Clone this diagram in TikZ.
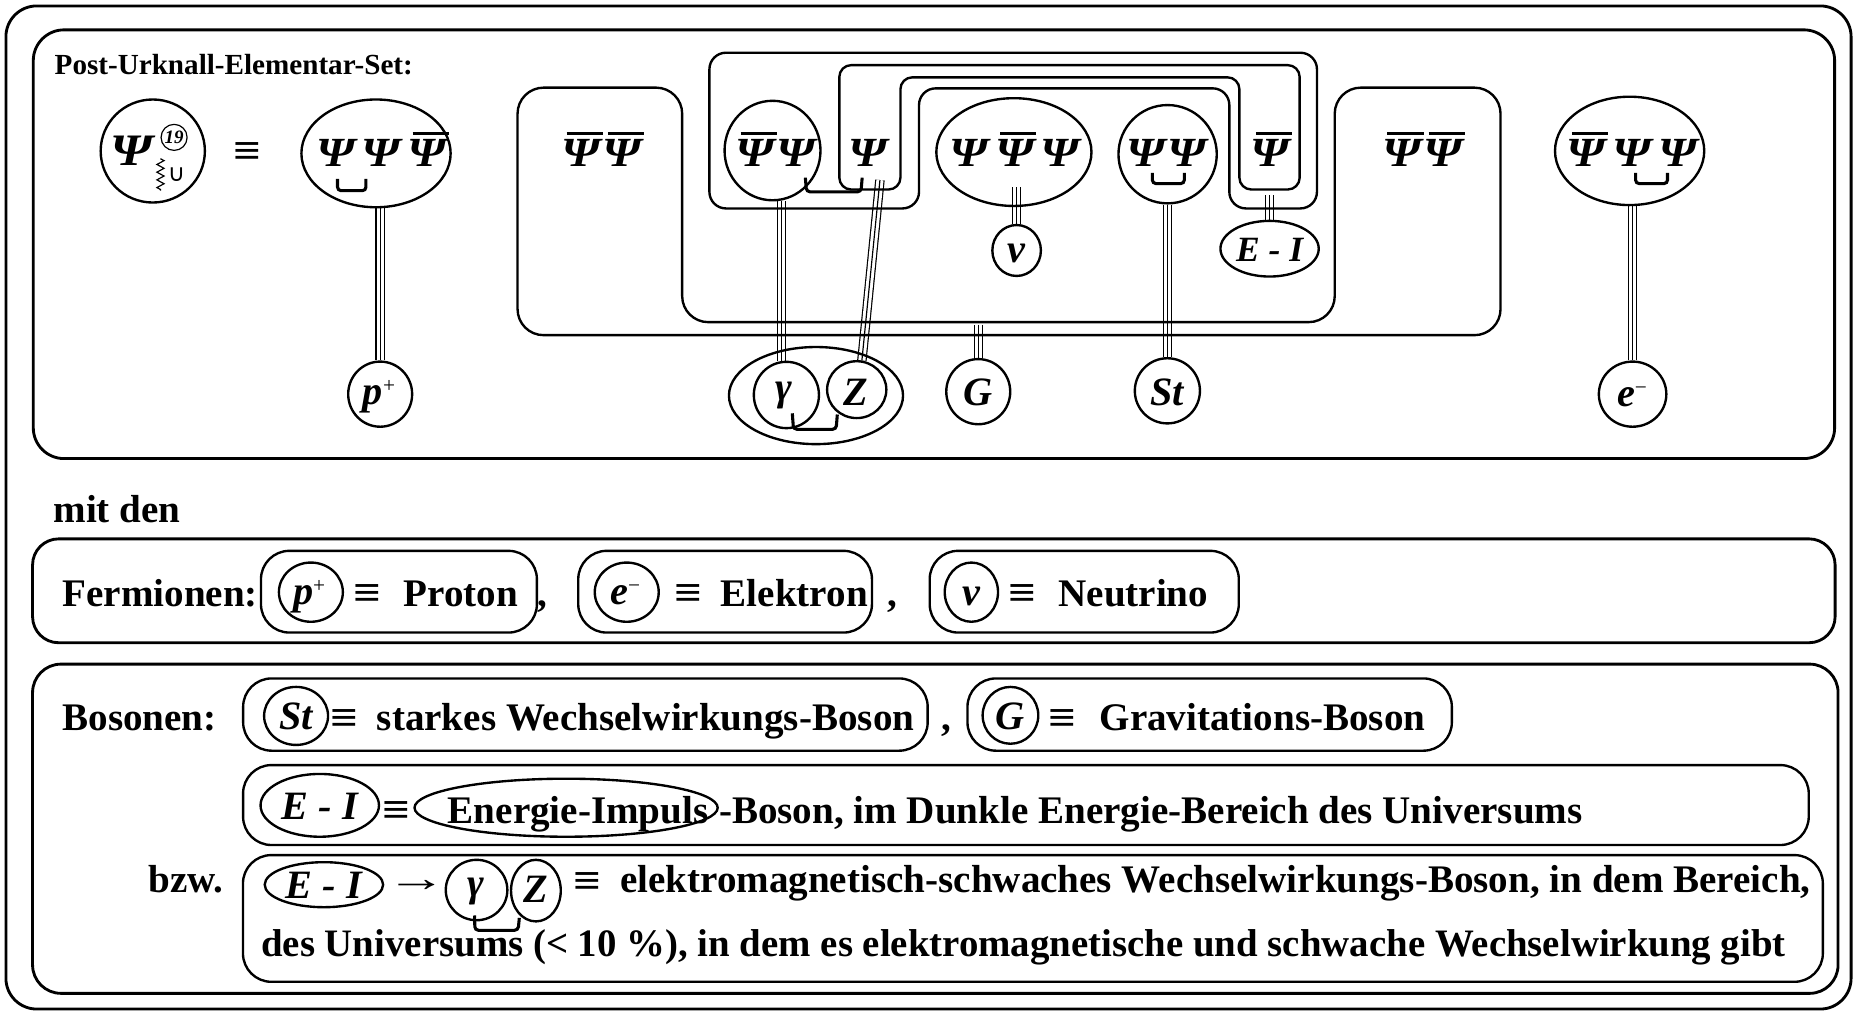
\documentclass[tikz,border=0pt]{standalone}
\usepackage{fontspec}
\setmainfont{Liberation Serif}
\newfontfamily\djv{DejaVu Sans}
\usetikzlibrary{shapes.geometric,decorations.pathmorphing,backgrounds}
\newcommand\Ps{\scalebox{1.17}[1]{Ψ}}
\newcommand\ob[1]{\begingroup\setbox0\hbox{#1}\rlap{\kern0.12em\raisebox{\dimexpr\ht0+0.1em\relax}{\rule{\dimexpr\wd0-0.06em\relax}{0.08em}}}\box0\endgroup}
\newcommand\plus{\raisebox{10pt}{\fontsize{18}{18}\selectfont\mdseries\upshape +}}
\newcommand\minus{\raisebox{10pt}{\fontsize{18}{18}\selectfont\mdseries\upshape −}}
\newcommand\eqsym{\scalebox{1.25}[1.05]{≡}}
\tikzset{
  frame/.style={draw, rectangle, line width=2.4pt, rounded corners=26pt, inner sep=0pt},
  rbox/.style={draw, rectangle, line width=2pt, rounded corners=24pt, inner sep=0pt},
  ell/.style={draw, ellipse, line width=2pt, inner sep=0pt},
  lbl/.style={inner sep=0pt, anchor=base, font=\fontsize{33}{36}\selectfont\bfseries},
  lblw/.style={lbl, anchor=base west},
  eqv/.style={inner sep=0pt, anchor=center, font=\fontsize{33}{36}\selectfont\bfseries},
  sym/.style={inner sep=0pt, anchor=base, font=\fontsize{34}{36}\selectfont\bfseries\itshape},
  psi/.style={inner sep=0pt, anchor=base, font=\fontsize{35}{36}\selectfont\bfseries\itshape},
  triple/.style={line width=1pt, preaction={draw, line width=8pt}, preaction={draw=white, line width=6pt}},
  brk/.style={line width=2.6pt, rounded corners=3pt},
  grp/.style={line width=2pt},
}
\begin{document}
\begin{tikzpicture}[x=1pt,y=-1pt]
\useasboundingbox (0,0) rectangle (1568,855);
% frames
\node[frame, minimum width=1558, minimum height=847] (outer) at (784,428.5) {};
\node[frame, minimum width=1521, minimum height=362] (topf) at (788.6,206.2) {};
% ---------- top section
\node[inner sep=0pt, anchor=base west, font=\fontsize{24.6}{26}\selectfont\bfseries] (title) at (46,62.5) {Post-Urknall-Elementar-Set:};
\node[ell, minimum width=88, minimum height=87] (psic) at (129,127.5) {};
\node[psi, font=\fontsize{38}{38}\selectfont\bfseries\itshape] (bigpsi) at (111,140) {\Ps};
\node[draw, circle, line width=1pt, minimum size=22, inner sep=0pt, font=\fontsize{16}{16}\selectfont\bfseries\itshape] (n19) at (147,116) {19};
\draw[decorate, decoration={zigzag, amplitude=3pt, segment length=6.5pt}, line width=1pt] (135.5,134) -- (135.5,161);
\node[inner sep=0pt, font=\fontsize{20}{20}\selectfont\djv] (cup) at (149,147.5) {∪};
\node[eqv] (eq0) at (209,130) {\eqsym};

\node[ell, minimum width=126, minimum height=91] (psiP) at (317.5,129.5) {};
\node[psi] (tP) at (322,140.7) {\Ps\,\Ps\,\ob{\Ps}};
\draw[brk] (285,151) -- (285,161) -- (309,161) -- (309,151);
\node[ell, minimum width=54, minimum height=55] (pp) at (321,332.8) {};
\node[sym] (tpp) at (320,341.5) {p\plus};

% group outlines
\draw[grp, rounded corners=22pt] (437,74) -- (576,74) -- (576,272) -- (1127,272) -- (1127,74) -- (1267,74) -- (1267,283) -- (437,283) -- cycle;
\draw[grp, rounded corners=14pt] (599,44.5) -- (1112,44.5) -- (1112,176) -- (1038,176) -- (1038,74.6) -- (776,74.6) -- (776,176) -- (599,176) -- cycle;
\draw[grp, rounded corners=10pt] (708.7,55) -- (1097.4,55) -- (1097.4,160) -- (1046.5,160) -- (1046.5,65.3) -- (760.3,65.3) -- (760.3,160) -- (708.7,160) -- cycle;
\node[psi] (tL) at (508,140.7) {\ob{\Ps}\kern2pt\ob{\Ps}};
\node[psi] (tR) at (1201,140.7) {\ob{\Ps}\kern2pt\ob{\Ps}};

\node[ell, minimum width=81, minimum height=84] (psiA) at (652.3,127.1) {};
\node[psi] (tA) at (655,140.7) {\ob{\Ps}\kern2pt\Ps};
\node[psi] (tC) at (733,140.7) {\Ps};
\draw[brk] (680,150) -- (681,162) -- (727,162) -- (728,150);
\node[ell, minimum width=147, minimum height=82] (gz) at (689,334) {};
\node[ell, minimum width=55, minimum height=56] (gam) at (664,333.5) {};
\node[ell, minimum width=50, minimum height=48] (zz) at (723.4,329) {};
\node[sym] (tgam) at (662,338) {γ};
\node[sym] (tzz) at (723,342) {Z};
\draw[brk] (669,349) -- (670,362.5) -- (706,362.5) -- (707,350);

\node[ell, minimum width=131, minimum height=91] (psiN) at (856.1,128.4) {};
\node[psi] (tN) at (856.7,140.7) {\Ps\,\ob{\Ps}\,\Ps};
\node[ell, minimum width=41, minimum height=43] (nu) at (858.4,211.5) {};
\node[sym] (tnu) at (858,222) {ν};
\node[ell, minimum width=54, minimum height=55] (gg) at (826,330.7) {};
\node[sym] (tgg) at (826,342.5) {G};

\node[ell, minimum width=83, minimum height=83] (psiS) at (985.9,130.2) {};
\node[psi] (tS) at (985,140.7) {\Ps\kern2pt\Ps};
\draw[brk] (973,146) -- (973,155) -- (1000,155) -- (1000,146);
\node[ell, minimum width=55, minimum height=55] (st) at (985.7,330) {};
\node[sym] (tst) at (985.7,342) {St};

\node[psi] (tQ) at (1072.5,140.7) {\ob{\Ps}};
\node[ell, minimum width=83, minimum height=47] (ei) at (1072,210) {};
\node[sym, font=\fontsize{30}{30}\selectfont\bfseries\itshape] (tei) at (1072,221) {E - I};

\node[ell, minimum width=126, minimum height=91.5] (psiE) at (1376,127.4) {};
\node[psi] (tE) at (1378,140.7) {\ob{\Ps}\,\Ps\,\Ps};
\draw[brk] (1381,146) -- (1381,155) -- (1408,155) -- (1408,146);
\node[ell, minimum width=57, minimum height=55] (em) at (1378.5,332.8) {};
\node[sym] (tem) at (1378,343) {e\minus};

\coordinate (zs) at (743,152);
\coordinate (gs) at (826,274);
\coordinate (ns) at (858.4,158);
\coordinate (es) at (1072,165);
\begin{scope}[on background layer]
\draw[triple] (pp.north |- psiP.south) -- (pp.north);
\draw[triple] (gam.98 |- psiA.south) -- (gam.98);
\draw[triple] (zs) -- (zz.80);
\draw[triple] (gs) -- (gg.north);
\draw[triple] (ns) -- (nu.north);
\draw[triple] (st.north |- psiS.south) -- (st.north);
\draw[triple] (es) -- (ei.north);
\draw[triple] (em.north |- psiE.south) -- (em.north);
\end{scope}

% ---------- Fermionen
\node[lblw] (mit) at (45,441.5) {mit den};
\node[frame, minimum width=1522, minimum height=87.7, rounded corners=22pt] (ferm) at (788.5,498.85) {};
\node[lblw] (tferm) at (52.6,512.3) {Fermionen:};
\node[rbox, minimum width=233, minimum height=69] (bp) at (336.85,499.6) {};
\node[ell, minimum width=54, minimum height=50] (cp) at (262.5,500) {};
\node[sym] (tcp) at (261,510) {p\plus};
\node[eqv] (eq1) at (310.5,503) {\eqsym};
\node[lblw] (tpro) at (340.5,512.3) {Proton};
\node[lbl] (c1) at (458.3,512.3) {,};
\node[rbox, minimum width=248, minimum height=69] (be) at (612.25,499.6) {};
\node[ell, minimum width=54, minimum height=50] (ce) at (529.2,500) {};
\node[sym] (tce) at (528,510) {e\minus};
\node[eqv] (eq2) at (581,503) {\eqsym};
\node[lblw] (tel) at (608.5,512.3) {Elektron};
\node[lbl] (c2) at (753.7,512.3) {,};
\node[rbox, minimum width=261, minimum height=69] (bn) at (915.5,499.6) {};
\node[ell, minimum width=45, minimum height=50] (cn) at (820.2,500) {};
\node[sym] (tcn) at (820,511) {ν};
\node[eqv] (eq3) at (863.5,503) {\eqsym};
\node[lblw] (tneu) at (893.5,512.3) {Neutrino};

% ---------- Bosonen
\node[frame, minimum width=1524.5, minimum height=278, rounded corners=24pt] (bos) at (789.75,699.75) {};
\node[lblw] (tbos) at (52.6,617) {Bosonen:};
\node[rbox, minimum width=578, minimum height=61] (bst) at (494.3,603.35) {};
\node[ell, minimum width=54, minimum height=49] (cst) at (250,604.5) {};
\node[sym] (tcst) at (250,616) {St};
\node[eqv] (eq4) at (290.5,608) {\eqsym};
\node[lblw] (tstark) at (318,617) {starkes Wechselwirkungs-Boson};
\node[lbl] (c3) at (798.8,617) {,};
\node[rbox, minimum width=409, minimum height=61] (bg) at (1021.4,603.35) {};
\node[ell, minimum width=47, minimum height=48] (cg) at (853.2,604) {};
\node[sym] (tcg) at (853,616) {G};
\node[eqv] (eq5) at (897.2,608) {\eqsym};
\node[lblw] (tgrav) at (928.3,617) {Gravitations-Boson};

\node[rbox, minimum width=1322, minimum height=67.5] (bei) at (866.25,679.75) {};
\node[ell, minimum width=100, minimum height=53] (cei) at (270,680) {};
\node[sym] (tcei) at (270,692) {E - I};
\node[eqv] (eq6) at (334.6,686) {\eqsym};
\node[ell, minimum width=256, minimum height=49] (cimp) at (478,682) {};
\node[lblw] (timp) at (378,695) {Energie-Impuls};
\node[lblw] (tdunkel) at (607,695) {-Boson, im Dunkle Energie-Bereich des Universums};

\node[lblw] (tbzw) at (125.2,754) {bzw.};
\node[rbox, minimum width=1334, minimum height=107] (bbzw) at (872.15,775.5) {};
\node[ell, minimum width=100, minimum height=38] (cei2) at (273.5,747) {};
\node[sym] (tcei2) at (273.5,759) {E - I};
\node[eqv] (arr) at (351.5,748) {\scalebox{1.55}[1]{\mdseries →}};
\node[ell, minimum width=52, minimum height=51] (cgam) at (402.4,751.5) {};
\node[sym] (tcgam) at (402,757) {γ};
\node[ell, minimum width=42, minimum height=52] (cz) at (452.5,752) {};
\node[sym] (tcz) at (452.5,762) {Z};
\draw[brk] (400.7,773) -- (401,785.5) -- (437.5,785.5) -- (438.5,775);
\node[eqv] (eq7) at (495.8,746) {\eqsym};
\node[lblw] (tem1) at (523.4,754) {elektromagnetisch-schwaches Wechselwirkungs-Boson, in dem Bereich,};
\node[lblw, font=\fontsize{32.8}{36}\selectfont\bfseries] (tem2) at (220.4,808) {des Universums (< 10 \%), in dem es elektromagnetische und schwache Wechselwirkung gibt};
\end{tikzpicture}
\end{document}
